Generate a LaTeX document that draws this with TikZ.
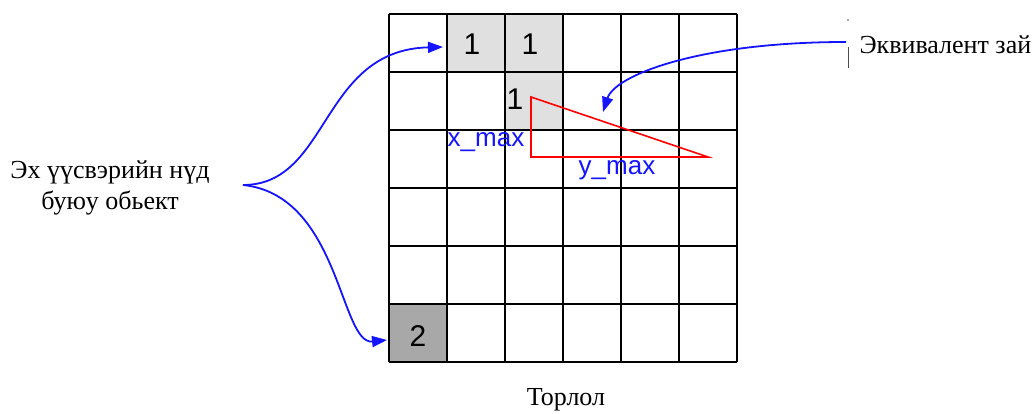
\documentclass[tikz,border=0pt]{standalone}
\usepackage{fontspec}
\setmainfont{Liberation Serif}
\newfontfamily\gridfont{Liberation Sans}
\usetikzlibrary{arrows.meta}
\definecolor{cellA}{RGB}{224,224,224}
\definecolor{cellB}{RGB}{168,168,168}
\definecolor{pointer}{RGB}{20,20,255}
\tikzset{
  gridline/.style={line width=1.8pt},
  num/.style={font=\gridfont\fontsize{30}{30}\selectfont},
  dist/.style={font=\gridfont\fontsize{26}{26}\selectfont, text=pointer, inner sep=0pt},
  lbl/.style={font=\fontsize{26}{31}\selectfont, align=center},
  link/.style={->, draw=pointer, line width=1.8pt}
}
\begin{document}
\begin{tikzpicture}[x=1pt,y=-1pt,>={Triangle[length=15pt,width=11pt]}]
\useasboundingbox (0,0) rectangle (1034,414);
% shaded cells
\fill[cellA] (447,14) rectangle (563,72);
\fill[cellA] (505,72) rectangle (563,130);
\fill[cellB] (389,304) rectangle (447,362);
% grid
\foreach \i in {0,...,6}{
  \draw[gridline] ({389+58*\i},14) -- ({389+58*\i},362);
  \draw[gridline] (389,{14+58*\i}) -- (737,{14+58*\i});
}
\node[num] (a1) at (472,44) {1};
\node[num] (a2) at (530,44) {1};
\node[num] (a3) at (515,99) {1};
\node[num] (b1) at (418,336) {2};
% distance triangle
\draw[red, line width=1.6pt] (531,97) -- (531,157) -- (708,157) -- cycle;
\node[dist] (xm) at (486,142) {x\_max};
\node[dist] (ym) at (617,170) {y\_max};
% labels
\node[lbl] (src) at (110,188) {Эх үүсвэрийн нүд\\буюу обьект};
\node[lbl, anchor=west] (equiv) at (856,45) {Эквивалент зай};
\node[lbl] (torlol) at (566,400) {Торлол};
\draw[gray!60!black, line width=1pt] (848,47) -- (848,68);
\fill[gray!60!black] (848,20) circle (0.8);
% arrows
\coordinate (fork) at (243,185);
\coordinate (upin) at (443,47);
\coordinate (downin) at (387,340);
\coordinate (eqstart) at (846,42);
\coordinate (eqin) at (603,112);
\draw[link] (fork) .. controls (330,185) and (320,50) .. (upin);
\draw[link] (fork) .. controls (340,195) and (340,345) .. (downin);
\draw[link] (eqstart) .. controls (700,42) and (615,75) .. (eqin);
\end{tikzpicture}
\end{document}
